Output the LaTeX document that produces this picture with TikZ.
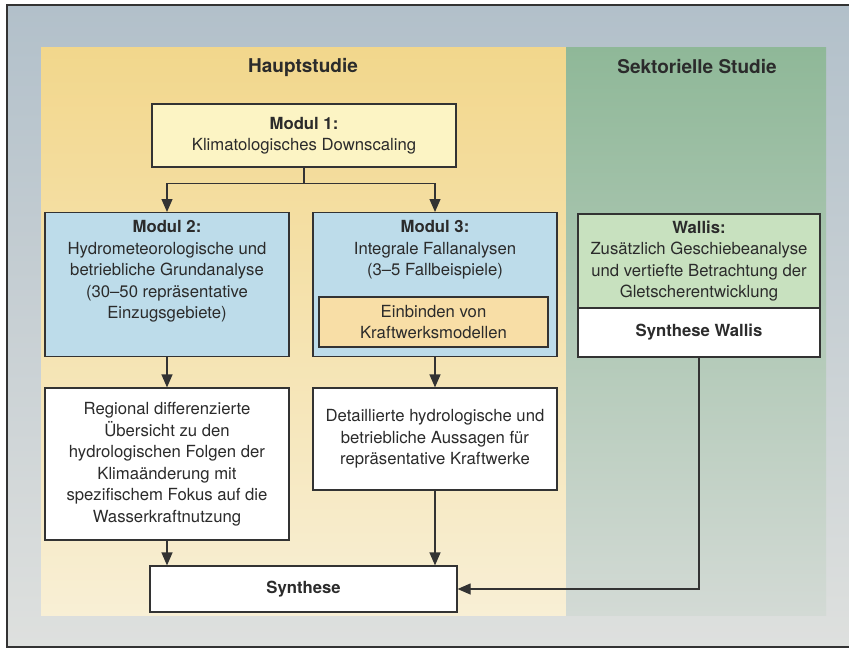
\documentclass[tikz,border=0pt]{standalone}
\usepackage{fontspec}
\setmainfont{TeX Gyre Heros}
\usepackage{xcolor}
\usepackage{tikz}
\usetikzlibrary{positioning,calc,arrows.meta}

\definecolor{frametop}{HTML}{B2C0CA}
\definecolor{framebot}{HTML}{DEE0DE}
\definecolor{hauptTop}{HTML}{F2D78C}
\definecolor{hauptBot}{HTML}{F8EFD5}
\definecolor{sektTop}{HTML}{8FB898}
\definecolor{sektBot}{HTML}{D3DAD5}
\definecolor{modulyellow}{HTML}{FCF4C4}
\definecolor{modulblue}{HTML}{BDDCEA}
\definecolor{kraftorange}{HTML}{F8DEA6}
\definecolor{wallisgreen}{HTML}{C8E1BF}
\definecolor{linegray}{HTML}{333333}
\definecolor{textgray}{HTML}{2B2B2B}

\newcommand{\bodyfont}{\fontsize{16.7}{21.5}\selectfont}
\newcommand{\headfont}{\fontsize{19}{23}\selectfont\bfseries}

\begin{document}
\begin{tikzpicture}[x=1pt, y=-1pt, line width=1.2pt, draw=linegray, >={Triangle[length=13pt,width=11pt]},
  box/.style={draw=linegray, align=center, font=\bodyfont, text=textgray, inner sep=0pt},
  head/.style={font=\headfont, text=textgray}]
\useasboundingbox (0,0) rectangle (849,648);
% background and the two study panels
\fill[top color=frametop, bottom color=framebot] (7,5) rectangle (870,647);
\draw[linegray] (870,5) -- (7,5) -- (7,647) -- (870,647);
\fill[top color=hauptTop, bottom color=hauptBot] (41,47) rectangle (566,615);
\fill[top color=sektTop, bottom color=sektBot] (566,47) rectangle (826,615);
\node[head] (haupt) at (303,67) {Hauptstudie};
\node[head] (sekt) at (697,67) {Sektorielle Studie};

\node[box, fill=modulyellow, minimum width=304, minimum height=63] (m1) at (304,135.5) {\textbf{Modul 1:}\\ Klimatologisches Downscaling};
\node[box, fill=modulblue, minimum width=244, minimum height=144, anchor=north] (m2) at (167,212) {};
\node[box, draw=none, anchor=north] (m2text) at ([yshift=-8pt]m2.north) {\textbf{Modul 2:}\\ Hydrometeorologische und\\ betriebliche Grundanalyse\\ (30–50 repräsentative\\ Einzugsgebiete)};
\node[box, fill=modulblue, minimum width=244, minimum height=144, anchor=north] (m3) at (435,212) {};
\node[box, draw=none, anchor=north] (m3text) at ([yshift=-8pt]m3.north) {\textbf{Modul 3:}\\ Integrale Fallanalysen\\ (3–5 Fallbeispiele)};
\node[box, fill=kraftorange, minimum width=229, minimum height=50] (kraft) at (433.5,322) {Einbinden von\\ Kraftwerksmodellen};

\node[box, fill=wallisgreen, minimum width=242, minimum height=94] (wallis) at (699,261) {\textbf{Wallis:}\\ Zusätzlich Geschiebeanalyse\\ und vertiefte Betrachtung der\\ Gletscherentwicklung};
\node[box, fill=white, minimum width=242, minimum height=49, below=-1.2pt of wallis] (synwallis) {\textbf{Synthese Wallis}};

\node[box, fill=white, minimum width=244, minimum height=152] (regional) at (167,464) {Regional differenzierte\\ Übersicht zu den\\ hydrologischen Folgen der\\ Klimaänderung mit\\ spezifischem Fokus auf die\\ Wasserkraftnutzung};
\node[box, fill=white, minimum width=244, minimum height=102] (detail) at (435,439) {Detaillierte hydrologische und\\ betriebliche Aussagen für\\ repräsentative Kraftwerke};
\node[box, fill=white, minimum width=307, minimum height=46] (synth) at (303.5,589) {\textbf{Synthese}};

% connectors
\coordinate (split) at ($(m1.south)+(0,16)$);
\draw (m1.south) -- (split);
\draw[->] (split) -| (m2.north);
\draw[->] (split) -| (m3.north);
\draw[->] (m2.south) -- (regional.north);
\draw[->] (m3.south) -- (detail.north);
\draw[->] (regional.south) -- (regional.south |- synth.north);
\draw[->] (detail.south) -- (detail.south |- synth.north);
\draw[->] (synwallis.south) |- (synth.east);
\end{tikzpicture}
\end{document}
